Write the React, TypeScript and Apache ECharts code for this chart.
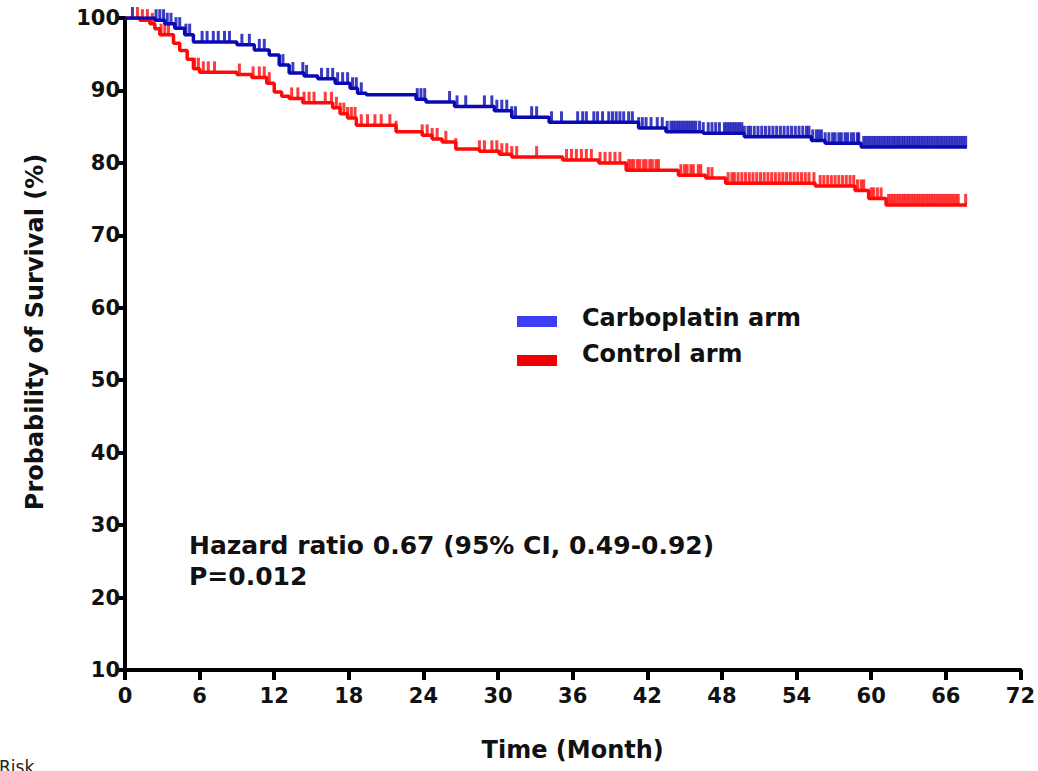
import React, { useEffect, useRef } from "react";
import * as echarts from "echarts";

// Kaplan-Meier step values (month, survival %)
const blueTimes = [0, 2.4, 3.2, 4.0, 4.8, 5.5, 9.0, 10.4, 11.6, 12.4, 13.2, 14.4, 15.5, 16.9, 18.1, 18.7, 19.4, 23.4, 24.2, 26.5, 29.7, 31.1, 34.1, 41.3, 43.5, 46.5, 49.8, 55.2, 56.3, 59.2];
const blueSurv = [100, 99.7, 99.2, 98.6, 97.7, 96.7, 96.3, 95.6, 94.9, 93.5, 92.4, 92.0, 91.6, 91.0, 90.3, 89.6, 89.4, 88.8, 88.4, 87.8, 87.2, 86.3, 85.6, 84.8, 84.3, 84.1, 83.6, 83.1, 82.7, 82.2];
const redTimes = [0, 1.2, 2.0, 2.4, 2.8, 3.9, 4.4, 5.0, 5.5, 6.0, 9.0, 10.2, 11.4, 12.0, 12.6, 13.2, 14.3, 16.7, 17.3, 17.9, 18.6, 21.8, 23.9, 24.7, 25.5, 26.6, 28.5, 30.1, 31.1, 35.2, 38.1, 40.3, 44.5, 46.7, 48.3, 55.5, 58.7, 59.8, 61.2];
const redSurv = [100, 99.7, 99.2, 98.5, 97.7, 96.5, 95.5, 94.3, 93.0, 92.5, 92.2, 91.8, 91.0, 89.8, 89.2, 88.9, 88.3, 87.6, 86.8, 86.2, 85.2, 84.3, 83.8, 83.3, 82.9, 81.9, 81.6, 81.2, 80.8, 80.4, 80.0, 79.0, 78.3, 77.9, 77.2, 76.8, 76.2, 75.1, 74.2];
const lastFollowUp = 67.7;

// censored observations (months)
const blueCensor = [0.6, 2.5, 2.8, 3.1, 3.4, 3.7, 4.1, 4.4, 4.9, 5.2, 6.2, 6.6, 7.1, 7.5, 8.0, 8.4, 9.4, 10.0, 10.8, 11.2, 12.7, 13.5, 14.3, 14.6, 15.8, 16.3, 16.7, 17.1, 17.5, 17.9, 18.3, 18.6, 19.0, 23.5, 23.8, 24.1, 26.1, 26.7, 27.4, 28.9, 29.5, 29.9, 30.3, 30.7, 31.1, 31.4, 32.7, 33.1, 34.3, 35.1, 36.4, 36.8, 37.1, 37.7, 38.0, 38.4, 38.9, 39.2, 39.5, 39.8, 40.1, 40.5, 40.8, 41.3, 41.6, 41.9, 42.3, 42.8, 43.2, 43.6, 43.9, 44.1, 44.3, 44.5, 44.7, 44.9, 45.1, 45.3, 45.5, 45.7, 45.9, 46.2, 46.5, 46.9, 47.2, 47.5, 47.8, 48.2, 48.4, 48.6, 48.8, 49.0, 49.2, 49.4, 49.6, 49.8, 50.1, 50.3, 50.6, 50.9, 51.2, 51.5, 51.8, 52.1, 52.4, 52.7, 53.0, 53.3, 53.6, 53.9, 54.2, 54.5, 54.8, 55.0, 55.3, 55.6, 55.8, 56.0, 56.3, 56.6, 56.9, 57.1, 57.4, 57.6, 57.9, 58.1, 58.4, 58.6, 58.9, 59.0, 59.4, 59.6, 59.8, 60.0, 60.2, 60.4, 60.6, 60.8, 61.0, 61.2, 61.4, 61.6, 61.8, 62.0, 62.2, 62.4, 62.6, 62.8, 63.0, 63.2, 63.4, 63.6, 63.8, 64.0, 64.2, 64.4, 64.6, 64.8, 65.0, 65.2, 65.4, 65.6, 65.8, 66.0, 66.2, 66.4, 66.6, 66.8, 67.0, 67.2, 67.4, 67.6];
const redCensor = [1.0, 1.4, 1.8, 2.2, 2.9, 3.2, 3.5, 5.6, 5.9, 6.3, 6.7, 7.2, 9.2, 10.3, 10.8, 11.2, 11.6, 13.4, 13.9, 14.4, 14.8, 15.2, 16.1, 16.6, 17.0, 17.3, 17.6, 17.9, 18.2, 18.5, 19.0, 19.5, 20.1, 20.6, 21.3, 21.8, 23.9, 24.3, 24.7, 25.1, 25.8, 26.6, 28.5, 28.9, 29.5, 29.9, 30.3, 30.7, 31.1, 31.5, 33.1, 35.5, 35.9, 36.3, 36.7, 37.1, 37.5, 38.2, 38.6, 39.0, 39.4, 39.8, 40.5, 40.7, 40.9, 41.2, 41.4, 41.7, 41.9, 42.2, 42.4, 42.7, 42.9, 44.7, 45.0, 45.2, 45.5, 45.7, 46.1, 46.3, 46.9, 47.2, 48.5, 48.8, 49.0, 49.3, 49.6, 49.9, 50.2, 50.5, 50.8, 51.1, 51.4, 51.7, 52.0, 52.3, 52.6, 52.9, 53.2, 53.5, 53.8, 54.1, 54.4, 54.7, 55.0, 55.4, 55.9, 56.2, 56.5, 56.8, 57.1, 57.4, 57.7, 58.0, 58.3, 58.6, 58.9, 59.2, 59.4, 60.0, 60.2, 60.5, 60.8, 61.4, 61.6, 61.8, 62.0, 62.2, 62.4, 62.6, 62.8, 63.0, 63.2, 63.4, 63.6, 63.8, 64.0, 64.2, 64.4, 64.6, 64.8, 65.0, 65.2, 65.4, 65.6, 65.8, 66.0, 66.2, 66.4, 66.6, 66.8, 67.0, 67.6];

const seriesNames = ["Carboplatin arm", "Control arm"];
const annotationLines = ["Hazard ratio 0.67 (95% CI, 0.49-0.92)", "P=0.012"];
const xAxisTitle = "Time (Month)";
const yAxisTitle = "Probability of Survival (%)";

const BLUE = "#0a0ab4";
const RED = "#ff0a0a";
const FONT = "DejaVu Sans";

function stepData(times: number[], surv: number[]) {
  const d = times.map((t, i) => [t, surv[i]]);
  d.push([lastFollowUp, surv[surv.length - 1]]);
  return d;
}
function survAt(times: number[], surv: number[], t: number) {
  let v = surv[0];
  for (let i = 0; i < times.length; i++) if (times[i] <= t) v = surv[i];
  return v;
}
function censorData(c: number[], times: number[], surv: number[]) {
  return c.map((t) => [t, survAt(times, surv, t)]);
}

export default function App() {
  const ref = useRef<HTMLDivElement>(null);
  useEffect(() => {
    if (!ref.current) return;
    const chart = echarts.init(ref.current, undefined, { renderer: "svg" });
    const censorSeries = (name: string, data: number[][], color: string) => ({
      name,
      type: "scatter",
      data,
      symbol: "rect",
      symbolSize: [3, 11],
      symbolOffset: [0, "-50%"],
      itemStyle: { color },
      clip: false,
      z: 4,
      silent: true,
    });
    chart.setOption({
      animation: false,
      backgroundColor: "#ffffff",
      grid: { left: 125, right: 16, top: 18, bottom: 101, containLabel: false },
      xAxis: {
        type: "value",
        min: 0,
        max: 72,
        interval: 6,
        name: xAxisTitle,
        nameLocation: "middle",
        nameGap: 68,
        nameTextStyle: { fontFamily: FONT, fontWeight: "bold", fontSize: 24, color: "#111" },
        axisLine: { show: true, onZero: false, lineStyle: { color: "#000", width: 4 } },
        axisTick: { show: true, length: 10, lineStyle: { color: "#000", width: 4 } },
        axisLabel: { fontFamily: FONT, fontWeight: "bold", fontSize: 21, color: "#111", margin: 15 },
        splitLine: { show: false },
      },
      yAxis: {
        type: "value",
        min: 10,
        max: 100,
        interval: 10,
        axisLine: { show: true, onZero: false, lineStyle: { color: "#000", width: 4 } },
        axisTick: { show: true, length: 9, lineStyle: { color: "#000", width: 4 } },
        axisLabel: { fontFamily: FONT, fontWeight: "bold", fontSize: 21, color: "#111", margin: 5 },
        splitLine: { show: false },
      },
      series: [
        {
          name: seriesNames[1],
          type: "line",
          step: "end",
          data: stepData(redTimes, redSurv),
          showSymbol: false,
          lineStyle: { color: RED, width: 3.5 },
          z: 3,
          silent: true,
        },
        censorSeries(seriesNames[1] + " censored", censorData(redCensor, redTimes, redSurv), RED),
        {
          name: seriesNames[0],
          type: "line",
          step: "end",
          data: stepData(blueTimes, blueSurv),
          showSymbol: false,
          lineStyle: { color: BLUE, width: 3.5 },
          z: 5,
          silent: true,
        },
        censorSeries(seriesNames[0] + " censored", censorData(blueCensor, blueTimes, blueSurv), BLUE),
      ],
      graphic: [
        {
          type: "text",
          x: 35,
          y: 332,
          rotation: Math.PI / 2,
          style: {
            text: yAxisTitle,
            fontFamily: FONT,
            fontWeight: "bold",
            fontSize: 24,
            fill: "#111",
            align: "center",
            verticalAlign: "middle",
          },
        },
        { type: "rect", left: 517, top: 316, shape: { width: 40, height: 11 }, style: { fill: "#3d3df5" } },
        { type: "rect", left: 517, top: 355, shape: { width: 40, height: 11 }, style: { fill: "#f00000" } },
        {
          type: "text",
          left: 582,
          top: 306,
          style: { text: seriesNames[0], fontFamily: FONT, fontWeight: "bold", fontSize: 24, fill: "#111" },
        },
        {
          type: "text",
          left: 582,
          top: 342,
          style: { text: seriesNames[1], fontFamily: FONT, fontWeight: "bold", fontSize: 24, fill: "#111" },
        },
        {
          type: "text",
          left: 189,
          top: 533,
          style: { text: annotationLines[0], fontFamily: FONT, fontWeight: "bold", fontSize: 25, fill: "#111" },
        },
        {
          type: "text",
          left: 189,
          top: 564,
          style: { text: annotationLines[1], fontFamily: FONT, fontWeight: "bold", fontSize: 25, fill: "#111" },
        },
        {
          type: "text",
          left: -1,
          top: 758,
          style: { text: "Risk", fontFamily: FONT, fontSize: 17, fill: "#222" },
        },
      ],
    });
    return () => chart.dispose();
  }, []);
  return <div ref={ref} style={{ position: "fixed", left: 0, top: 0, width: 1038, height: 771, background: "#fff" }} />;
}
